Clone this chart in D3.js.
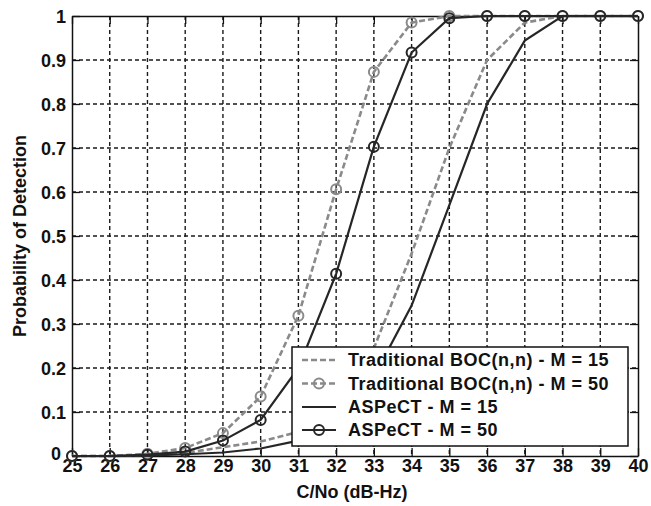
<!DOCTYPE html>
<html>
<head>
<meta charset="utf-8">
<script src="https://cdn.jsdelivr.net/npm/d3@7"></script>
<style>
  html, body { margin: 0; padding: 0; background: #fff; }
  svg { display: block; }
  text { font-family: "Liberation Sans", Arial, sans-serif; font-weight: bold; fill: #111; }
</style>
</head>
<body>
<svg id="chart" width="651" height="506"></svg>
<script>
const cno = [25, 26, 27, 28, 29, 30, 31, 32, 33, 34, 35, 36, 37, 38, 39, 40];
const tradM15 = [0, 0, 0.002, 0.007, 0.02, 0.033, 0.055, 0.12, 0.245, 0.46, 0.7, 0.9, 0.985, 1, 1, 1];
const tradM50 = [0, 0, 0.005, 0.018, 0.052, 0.135, 0.319, 0.606, 0.873, 0.985, 1, 1, 1, 1, 1, 1];
const aspM15 = [0, 0, 0.001, 0.004, 0.008, 0.017, 0.035, 0.085, 0.18, 0.342, 0.57, 0.8, 0.944, 1, 1, 1];
const aspM50 = [0, 0, 0.003, 0.01, 0.035, 0.082, 0.2, 0.414, 0.703, 0.917, 0.995, 1, 1, 1, 1, 1];
const xTicks = [25, 26, 27, 28, 29, 30, 31, 32, 33, 34, 35, 36, 37, 38, 39, 40];
const yTicks = [0, 0.1, 0.2, 0.3, 0.4, 0.5, 0.6, 0.7, 0.8, 0.9, 1];
const seriesNames = ["Traditional BOC(n,n) - M = 15", "Traditional BOC(n,n) - M = 50", "ASPeCT - M = 15", "ASPeCT - M = 50"];

const svg = d3.select("#chart");
const L = 72, R = 638, T = 16, B = 456;
const x = d3.scaleLinear().domain([25, 40]).range([L, R]);
const y = d3.scaleLinear().domain([0, 1]).range([B, T]);

const gray = "#8a8a8a", dark = "#262626";

// grid
const grid = svg.append("g");
grid.selectAll(".gx").data(xTicks.slice(1, -1)).enter().append("line")
  .attr("x1", d => x(d)).attr("x2", d => x(d)).attr("y1", T).attr("y2", B)
  .attr("stroke", "#1a1a1a").attr("stroke-width", 1.4).attr("stroke-dasharray", "4,3");
grid.selectAll(".gy").data(yTicks.slice(1, -1)).enter().append("line")
  .attr("x1", L).attr("x2", R).attr("y1", d => y(d)).attr("y2", d => y(d))
  .attr("stroke", "#1a1a1a").attr("stroke-width", 1.4).attr("stroke-dasharray", "4,3");

// axes (ticks inward)
const axB = svg.append("g").attr("transform", `translate(0,${B})`)
  .call(d3.axisBottom(x).tickValues(xTicks).tickFormat(d3.format("d")).tickSizeInner(-8).tickSizeOuter(0).tickPadding(3));
const axL = svg.append("g").attr("transform", `translate(${L},0)`)
  .call(d3.axisLeft(y).tickValues(yTicks).tickFormat(d => d === 0 ? "0" : d === 1 ? "1" : d3.format(".1f")(d)).tickSizeInner(-8).tickSizeOuter(0).tickPadding(6));
const axT = svg.append("g").attr("transform", `translate(0,${T})`)
  .call(d3.axisTop(x).tickValues(xTicks).tickFormat("").tickSizeInner(-8).tickSizeOuter(0));
const axR = svg.append("g").attr("transform", `translate(${R},0)`)
  .call(d3.axisRight(y).tickValues(yTicks).tickFormat("").tickSizeInner(-8).tickSizeOuter(0));
[axB, axL, axT, axR].forEach(a => {
  a.selectAll(".domain").attr("stroke", "#111").attr("stroke-width", 1.5);
  a.selectAll(".tick line").attr("stroke", "#111").attr("stroke-width", 1.3);
  a.selectAll("text").style("font-size", "18px").style("font-family", "Liberation Sans, Arial, sans-serif").style("font-weight", "bold").attr("fill", "#111");
});
axL.selectAll("text").attr("dy", "0.36em");
// keep the "0" label clear of the "25" label below it
axL.selectAll(".tick").filter(d => d === 0).select("text").attr("x", -11).attr("dy", "0.2em");

// series
const line = d3.line().x((d, i) => x(cno[i])).y(d => y(d));
const series = [
  { vals: tradM15, color: gray, dash: "6,3", width: 2.6, marker: false },
  { vals: tradM50, color: gray, dash: "6,3", width: 2.6, marker: true },
  { vals: aspM15, color: dark, dash: null, width: 2.2, marker: false },
  { vals: aspM50, color: dark, dash: null, width: 2.2, marker: true }
];
series.forEach(s => {
  svg.append("path").datum(s.vals).attr("d", line).attr("fill", "none")
    .attr("stroke", s.color).attr("stroke-width", s.width)
    .attr("stroke-dasharray", s.dash);
  if (s.marker) {
    svg.append("g").selectAll("circle").data(s.vals).enter().append("circle")
      .attr("cx", (d, i) => x(cno[i])).attr("cy", d => y(d)).attr("r", 5)
      .attr("fill", "none").attr("stroke", s.color).attr("stroke-width", 2);
  }
});

// legend
const lg = svg.append("g");
lg.append("rect").attr("x", 292).attr("y", 347).attr("width", 336).attr("height", 99)
  .attr("fill", "#fff").attr("stroke", "#111").attr("stroke-width", 1.5);
const rowY = [360, 383.5, 407, 430];
series.forEach((s, i) => {
  lg.append("line").attr("x1", 302).attr("x2", 336).attr("y1", rowY[i]).attr("y2", rowY[i])
    .attr("stroke", s.color).attr("stroke-width", s.width).attr("stroke-dasharray", s.dash);
  if (s.marker) {
    lg.append("circle").attr("cx", 319).attr("cy", rowY[i]).attr("r", 5)
      .attr("fill", "none").attr("stroke", s.color).attr("stroke-width", 2);
  }
  lg.append("text").attr("x", 348).attr("y", rowY[i]).attr("dy", "0.36em")
    .style("font-size", "18px").style("letter-spacing", "0.5px").text(seriesNames[i]);
});

// axis titles
svg.append("text").attr("x", (L + R) / 2 - 3).attr("y", 498).attr("text-anchor", "middle")
  .style("font-size", "18px").text("C/No (dB-Hz)");
svg.append("text").attr("transform", `translate(26,${(T + B) / 2}) rotate(-90)`)
  .attr("text-anchor", "middle").style("font-size", "18px").text("Probability of Detection");
</script>
</body>
</html>
